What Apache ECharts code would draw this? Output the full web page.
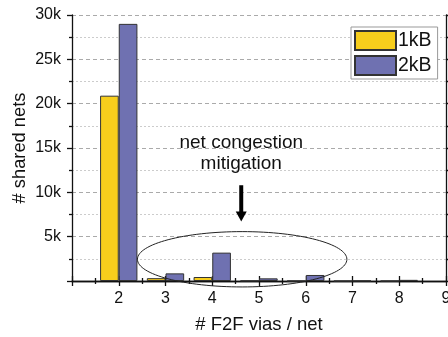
<!DOCTYPE html>
<html><head><meta charset="utf-8">
<script src="https://cdn.jsdelivr.net/npm/echarts@6/dist/echarts.min.js"></script>
<style>html,body{margin:0;padding:0;background:#fff}#c{width:448px;height:337px}</style>
</head><body><div id="c"></div>
<script>
var viaCounts = [2, 3, 4, 5, 6, 7, 8];
var nets1kB = [20900, 320, 450, 40, 20, 10, 10];
var nets2kB = [29000, 860, 3200, 300, 680, 40, 130];
var seriesNames = ['1kB', '2kB'];
var xTickMin = 1, xTickMax = 9;
var yTickMax = 30000, yStep = 5000;

var FONT = '"Liberation Sans", Arial, sans-serif';
var chart = echarts.init(document.getElementById('c'));
function pairs(vals){ return viaCounts.map(function(x,i){ return [x, vals[i]]; }); }
var axisCommon = {
  axisLine:{show:true,lineStyle:{color:'#111',width:1.3}},
  axisTick:{show:true,inside:false,length:5,lineStyle:{color:'#111',width:1.3}},
  minorTick:{show:true,splitNumber:2,length:3,lineStyle:{color:'#111',width:1.3}}
};
chart.setOption({
  animation:false,
  textStyle:{fontFamily:FONT},
  grid:{left:72,right:2,top:15,bottom:56,containLabel:false,outerBoundsMode:'none'},
  legend:{
    show:true, left:351, top:27, orient:'vertical',
    itemWidth:41, itemHeight:19, itemGap:4, padding:[3,6,3,3],
    borderColor:'#999', borderWidth:1, backgroundColor:'#fff',
    textStyle:{fontSize:19.5, color:'#111', fontFamily:FONT, padding:[0,0,0,-3]},
    data:seriesNames, icon:'rect'
  },
  xAxis:[
    Object.assign({type:'value',min:xTickMin,max:xTickMax,interval:1,position:'bottom',
      name:'# F2F vias / net',nameLocation:'middle',nameGap:34,nameMoveOverlap:false,
      nameTextStyle:{fontSize:18.5,color:'#111',fontFamily:FONT},
      axisLabel:{fontSize:16,color:'#111',margin:10,fontFamily:FONT,
        formatter:function(v){return v===xTickMin?'':String(v);}},
      splitLine:{show:false}}, axisCommon),
    Object.assign({type:'value',min:xTickMin,max:xTickMax,interval:1,position:'top',
      axisLabel:{show:false},splitLine:{show:false}}, axisCommon)
  ],
  yAxis:[
    Object.assign({type:'value',min:0,max:yTickMax,interval:yStep,position:'left',
      name:'# shared nets',nameLocation:'middle',nameGap:43,nameMoveOverlap:false,
      nameTextStyle:{fontSize:18.3,color:'#111',fontFamily:FONT},
      axisLabel:{fontSize:16,color:'#111',margin:11,fontFamily:FONT,
        formatter:function(v){return v===0?'':(v/1000)+'k';}},
      splitLine:{show:true,lineStyle:{color:'#aaa',type:[4,3],width:1}},
      minorSplitLine:{show:true,lineStyle:{color:'#ccc',type:[2,2],width:1}}}, axisCommon),
    Object.assign({type:'value',min:0,max:yTickMax,interval:yStep,position:'right',
      axisLabel:{show:false},splitLine:{show:false}}, axisCommon)
  ],
  series:[
    {name:seriesNames[0],type:'bar',data:pairs(nets1kB),barWidth:18.67,barGap:'0%',
      itemStyle:{color:'#F7CE1C',borderColor:'#333',borderWidth:1}},
    {name:seriesNames[1],type:'bar',data:pairs(nets2kB),barWidth:18.67,barGap:'0%',
      itemStyle:{color:'#6F71B1',borderColor:'#333',borderWidth:1}}
  ]
});
// annotation ellipse and arrow, placed through the axes
var c = chart.convertToPixel({xAxisIndex:0,yAxisIndex:0},[4.64,2450]);
var e = chart.convertToPixel({xAxisIndex:0,yAxisIndex:0},[6.88,5570]);
var rx = e[0]-c[0], ry = c[1]-e[1];
var a1 = chart.convertToPixel({xAxisIndex:0,yAxisIndex:0},[4.62,10800]);
var a2 = chart.convertToPixel({xAxisIndex:0,yAxisIndex:0},[4.62,6700]);
chart.setOption({graphic:[
  {type:'ellipse',shape:{cx:c[0],cy:c[1],rx:rx,ry:ry},style:{fill:null,stroke:'#222',lineWidth:1},z:100},
  {type:'rect',shape:{x:a1[0]-2,y:a1[1],width:4,height:(a2[1]-a1[1])-9},style:{fill:'#000'},z:100},
  {type:'polygon',shape:{points:[[a1[0]-5.5,a2[1]-10],[a1[0]+5.5,a2[1]-10],[a1[0],a2[1]]]},style:{fill:'#000'},z:100},
  {type:'text',x:a1[0],y:a1[1]-53,style:{text:'net congestion\nmitigation',fontSize:19,fontFamily:FONT,fill:'#111',align:'center',verticalAlign:'top',lineHeight:21},z:100}
]});
</script></body></html>
